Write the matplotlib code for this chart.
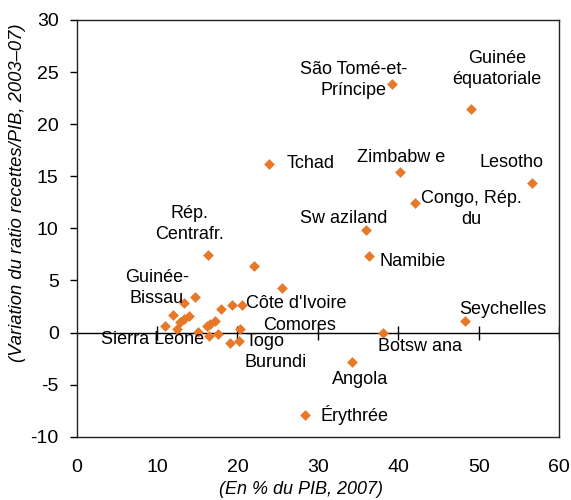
import matplotlib
matplotlib.use('Agg')
import matplotlib.pyplot as plt

# Data: (En % du PIB, 2007) vs variation du ratio recettes/PIB 2003-07
x_vals = [16.3, 22.0, 25.6, 14.7, 13.4, 19.3, 20.6, 17.9, 12.0, 14.0,
          12.9, 13.3, 11.0, 12.5, 15.1, 17.2, 16.6, 16.2, 20.3, 16.4,
          17.6, 19.1, 20.2, 23.9, 39.2, 49.1, 40.2, 56.7, 42.1, 36.0,
          36.4, 48.3, 38.1, 34.3, 28.4]
y_vals = [7.4, 6.4, 4.3, 3.45, 2.8, 2.65, 2.65, 2.25, 1.7, 1.6,
          1.05, 1.3, 0.6, 0.35, 0.05, 1.15, 0.85, 0.6, 0.3, -0.35,
          -0.15, -1.0, -0.85, 16.2, 23.9, 21.5, 15.4, 14.4, 12.4, 9.8,
          7.3, 1.1, 0.0, -2.8, -7.9]

label_texts = ["São Tomé-et-\nPríncipe", "Guinée\néquatoriale", "Tchad",
               "Zimbabw e", "Lesotho", "Congo, Rép.\ndu", "Sw aziland",
               "Namibie", "Seychelles", "Botsw ana", "Angola", "Érythrée",
               "Rép.\nCentrafr.", "Guinée-\nBissau", "Sierra Leone",
               "Côte d'Ivoire", "Comores", "Togo", "Burundi"]

# label anchor positions (layout only)
label_pos = [(34.4, 24.2), (52.3, 25.3), (29.1, 16.2), (40.3, 16.8),
             (54.1, 16.3), (49.1, 11.85), (33.2, 10.9), (41.8, 6.8),
             (53.0, 2.25), (42.7, -1.35), (35.3, -4.55), (34.6, -7.9),
             (14.0, 10.4), (9.95, 4.3), (9.5, -0.7), (27.3, 2.8),
             (27.7, 0.65), (23.5, -0.9), (24.8, -2.9)]

xticks = [0, 10, 20, 30, 40, 50, 60]
yticks = [-10, -5, 0, 5, 10, 15, 20, 25, 30]

plt.rcParams['font.family'] = ['Liberation Sans', 'DejaVu Sans']

fig = plt.figure(figsize=(5.71, 5.0), dpi=100)
ax = fig.add_axes([0.1343, 0.1266, 0.979 - 0.1343, 0.96 - 0.1266])

orange = '#E67828'
ax.axhline(0, color='black', lw=1.0, zorder=1)
ax.plot(xticks[1:], [0] * len(xticks[1:]), linestyle='none', marker='|',
        markersize=9.5, markeredgewidth=1.0, color='black', zorder=1)

ax.scatter(x_vals, y_vals, marker='D', s=30, color=orange, zorder=3,
           linewidths=0)

for t, (lx, ly) in zip(label_texts, label_pos):
    ax.text(lx, ly, t, ha='center', va='center', fontsize=13,
            linespacing=1.3, color='black', zorder=4)

ax.set_xlim(0, 60)
ax.set_ylim(-10, 30)
ax.set_xticks(xticks)
ax.set_yticks(yticks)
ax.set_xticklabels([str(v) for v in xticks], fontsize=14)
ax.set_yticklabels([str(v) for v in yticks], fontsize=14)
ax.tick_params(axis='x', length=0, pad=16)
ax.tick_params(axis='y', direction='out', length=5, width=1, pad=8)

for s in ['top', 'right', 'bottom', 'left']:
    ax.spines[s].set_linewidth(1.0)
    ax.spines[s].set_color('#222222')

ax.set_xlabel('(En % du PIB, 2007)', fontsize=13, style='italic')
ax.set_ylabel('(Variation du ratio recettes/PIB, 2003–07)', fontsize=13.2,
              style='italic')
ax.xaxis.set_label_coords(0.466, -0.106)
ax.yaxis.set_label_coords(-0.105, 0.585)

fig.savefig('out.png', dpi=100)
